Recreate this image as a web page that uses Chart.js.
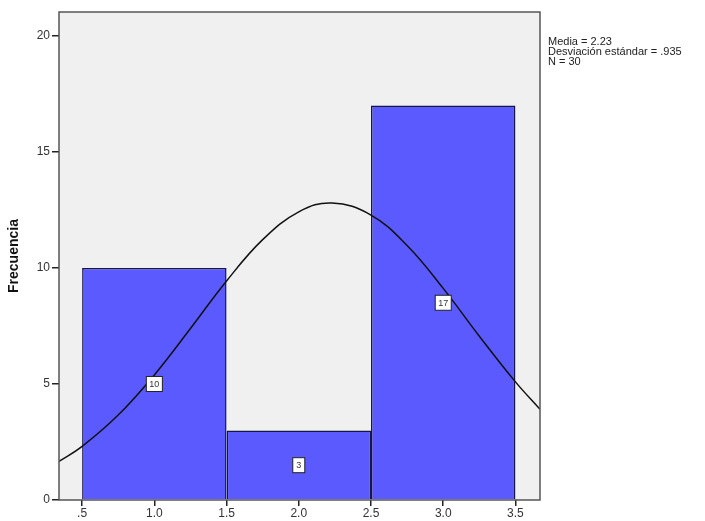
<!DOCTYPE html>
<html>
<head>
<meta charset="utf-8">
<script src="https://cdn.jsdelivr.net/npm/chart.js@4/dist/chart.umd.min.js"></script>
<style>
  html, body { margin: 0; padding: 0; background: #fff; }
  #wrap { width: 705px; height: 521px; }
</style>
</head>
<body>
<div id="wrap"><canvas id="hist" width="705" height="521"></canvas></div>
<script>
// histogram bins (centre of each bin) and counts
const binCenters = [1.0, 2.0, 3.0];
const counts = [10, 3, 17];

// normal curve, points
const curveX = [0.34, 0.5, 0.75, 1.0, 1.25, 1.5, 1.75, 2.0, 2.23, 2.5, 2.75, 3.0, 3.25, 3.5, 3.67];
const curveY = [1.66, 2.31, 3.66, 5.39, 7.39, 9.44, 11.22, 12.42, 12.8, 12.28, 10.97, 9.12, 7.06, 5.09, 3.91];

// axis ticks
const xTicks = [0.5, 1.0, 1.5, 2.0, 2.5, 3.0, 3.5];
const xTickLabels = ['.5', '1.0', '1.5', '2.0', '2.5', '3.0', '3.5'];
const yTicks = [0, 5, 10, 15, 20];

const statsText = ['Media = 2.23', 'Desviación estándar = .935', 'N = 30'];

const FONT = 'Arial, "Liberation Sans", sans-serif';

// grey plot background + frame
const frame = {
    id: 'frame',
    beforeDraw(chart) {
        const a = chart.chartArea, ctx = chart.ctx;
        ctx.save();
        ctx.fillStyle = '#f0f0f0';
        ctx.fillRect(a.left, a.top, a.right - a.left, a.bottom - a.top);
        ctx.restore();
    },
    afterDraw(chart) {
        const a = chart.chartArea, ctx = chart.ctx;
        ctx.save();
        ctx.strokeStyle = '#555';
        ctx.lineWidth = 1.5;
        ctx.strokeRect(a.left, a.top, a.right - a.left, a.bottom - a.top);
        // stats text on the right
        ctx.fillStyle = '#222';
        ctx.font = '11px ' + FONT;
        ctx.textBaseline = 'middle';
        statsText.forEach((t, i) => ctx.fillText(t, a.right + 8, 42 + i * 10));
        ctx.restore();
    }
};

// the little boxed count labels in the middle of each bar
const countBoxes = {
    id: 'countBoxes',
    afterDatasetsDraw(chart) {
        const ctx = chart.ctx, xs = chart.scales.x, ys = chart.scales.y;
        ctx.save();
        ctx.font = '9px ' + FONT;
        ctx.textAlign = 'center';
        ctx.textBaseline = 'middle';
        counts.forEach((c, i) => {
            const px = xs.getPixelForValue(binCenters[i]);
            const py = ys.getPixelForValue(c / 2);
            const w = Math.max(ctx.measureText(String(c)).width + 6, 12);
            const h = 15;
            ctx.fillStyle = '#fff';
            ctx.fillRect(px - w / 2, py - h / 2, w, h);
            ctx.strokeStyle = '#222';
            ctx.lineWidth = 1;
            ctx.strokeRect(px - w / 2, py - h / 2, w, h);
            ctx.fillStyle = '#333';
            ctx.fillText(String(c), px, py + 0.5);
        });
        ctx.restore();
    }
};

new Chart(document.getElementById('hist').getContext('2d'), {
    type: 'bar',
    data: {
        datasets: [
            {
                type: 'line',
                data: curveX.map((x, i) => ({ x: x, y: curveY[i] })),
                borderColor: '#111',
                borderWidth: 1.5,
                pointRadius: 0,
                tension: 0.4,
                fill: false
            },
            {
                data: binCenters.map((x, i) => ({ x: x, y: counts[i] })),
                backgroundColor: '#5a5aff',
                borderColor: '#15154a',
                borderWidth: 1.5,
                // min sample size comes from the 0.5 tick spacing, so double it to fill a 1.0 bin
                barPercentage: 2,
                categoryPercentage: 1
            }
        ]
    },
    options: {
        responsive: false,
        animation: false,
        layout: { padding: { left: 0, right: 165, top: 12, bottom: 0 } },
        plugins: { legend: { display: false }, tooltip: { enabled: false } },
        scales: {
            x: {
                type: 'linear',
                offset: false,
                min: 0.34,
                max: 3.67,
                afterBuildTicks: axis => { axis.ticks = xTicks.map(v => ({ value: v })); },
                afterFit: axis => { axis.height = 21; },
                grid: { offset: false, drawOnChartArea: false, tickLength: 6, color: '#222', lineWidth: 1.5 },
                border: { display: false },
                ticks: {
                    padding: 0,
                    color: '#333',
                    font: { family: FONT, size: 12 },
                    callback: (v) => xTickLabels[xTicks.indexOf(v)]
                }
            },
            y: {
                min: 0,
                max: 21.03,
                afterBuildTicks: axis => { axis.ticks = yTicks.map(v => ({ value: v })); },
                afterFit: axis => { axis.width = 59; },
                grid: { drawOnChartArea: false, tickLength: 7, color: '#222', lineWidth: 1.5 },
                border: { display: false },
                ticks: { padding: 2, color: '#333', font: { family: FONT, size: 12 } },
                title: {
                    display: true,
                    text: 'Frecuencia',
                    color: '#111',
                    font: { family: FONT, size: 14, weight: 'bold' },
                    padding: { top: 6, bottom: 0 }
                }
            }
        }
    },
    plugins: [frame, countBoxes]
});
</script>
</body>
</html>
